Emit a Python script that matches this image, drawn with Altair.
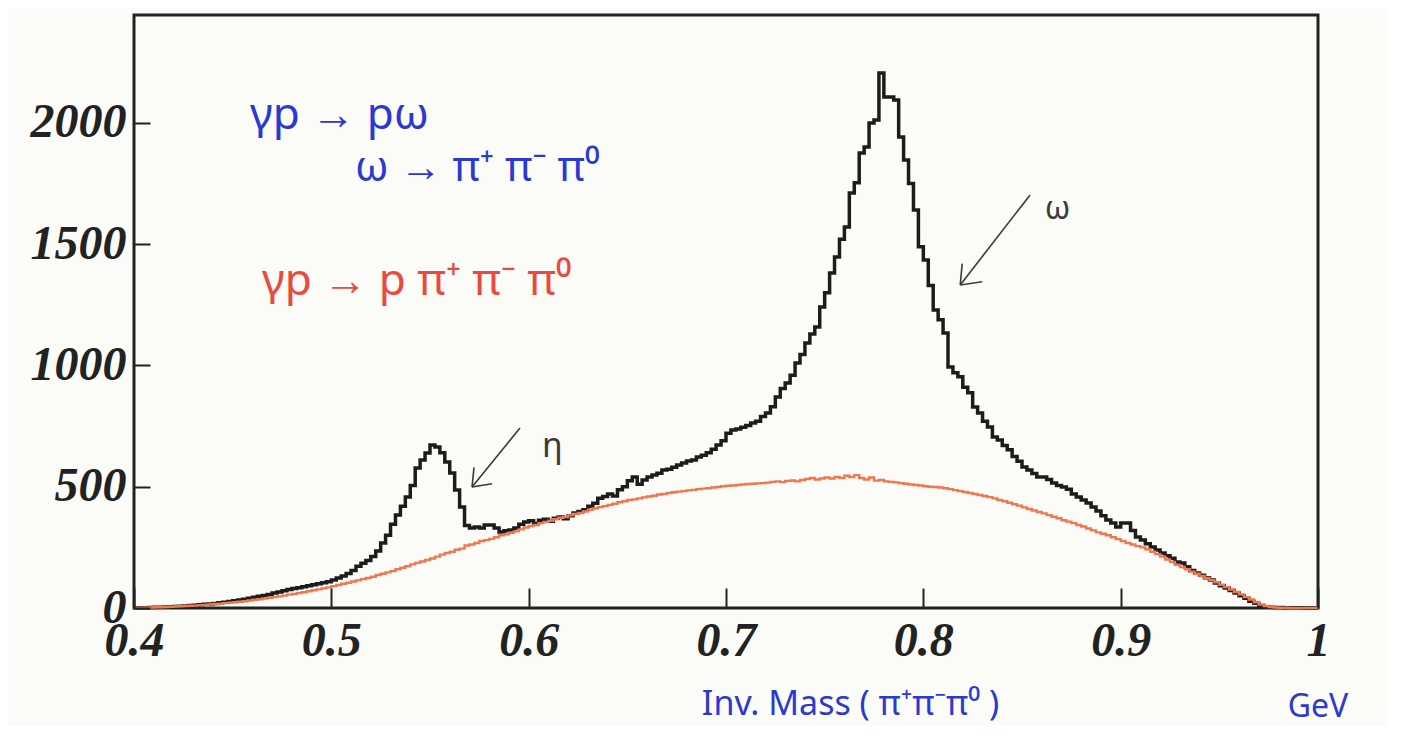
import altair as alt
import pandas as pd

# ---- data (bin width 0.0025 GeV, 240 bins from 0.4 to 1.0) ----
BIN_START = 0.4
BIN_WIDTH = 0.0025

# gamma p -> p omega, omega -> pi+ pi- pi0 (black histogram)
omega_counts = [
    0, 1, 1, 2, 3, 3, 4, 5, 6, 7, 8, 10, 11, 13, 15, 17, 19, 22, 24, 27,
    30, 33, 36, 40, 44, 48, 52, 56, 62, 66, 71, 76, 80, 84, 88, 92, 96, 100, 104, 108,
    115, 124, 132, 142, 155, 172, 185, 196, 212, 235, 268, 300, 345, 383, 420, 458,
    505, 577, 610, 639, 672, 664, 640, 602, 557, 487, 416, 340, 330, 334, 330, 342,
    342, 330, 313, 318, 322, 330, 345, 355, 360, 348, 362, 366, 358, 370, 375, 368,
    380, 392, 398, 405, 420, 432, 453, 460, 470, 462, 488, 500, 525, 540, 510, 528,
    540, 548, 556, 569, 572, 580, 590, 598, 606, 610, 623, 630, 640, 655, 672, 690,
    721, 734, 738, 745, 752, 763, 770, 790, 804, 830, 870, 905, 928, 960, 1010, 1045,
    1093, 1130, 1159, 1241, 1300, 1381, 1447, 1520, 1571, 1711, 1753, 1876,
    1901, 2000, 2012, 2206, 2107, 2107, 2095, 1942, 1847, 1750, 1641, 1489,
    1435, 1330, 1229, 1188, 1134, 994, 970, 953, 910, 887, 829, 804, 770, 746, 705, 693,
    670, 652, 625, 605, 581, 569, 555, 540, 540, 530, 515, 505, 499, 490, 470, 458,
    445, 433, 416, 400, 380, 363, 350, 334, 350, 350, 320, 293, 280, 265, 252, 239,
    227, 215, 205, 190, 186, 170, 155, 144, 135, 125, 115, 103, 92, 82, 72, 62,
    50, 40, 28, 20, 10, 5, 3, 2, 2, 1, 1, 1, 1, 0, 0, 0,
]

# gamma p -> p pi+ pi- pi0 phase space (red histogram)
phase_counts = [
    0, 1, 1, 2, 3, 3, 4, 5, 6, 7, 8, 9, 10, 12, 13, 15, 17, 18, 20, 22,
    24, 26, 28, 31, 34, 36, 39, 42, 45, 48, 51, 55, 58, 62, 65, 69, 73, 77, 81, 85,
    90, 95, 100, 104, 109, 114, 119, 124, 129, 136, 141, 147, 152, 160, 166, 172,
    180, 186, 192, 198, 204, 212, 220, 227, 232, 240, 245, 258, 262, 268, 276, 280,
    285, 292, 300, 304, 310, 316, 324, 332, 338, 342, 350, 355, 360, 366, 372, 375,
    382, 388, 392, 398, 405, 410, 416, 420, 425, 430, 436, 440, 445, 448, 452, 456,
    460, 463, 468, 470, 474, 477, 480, 482, 485, 487, 490, 492, 494, 497, 499, 502,
    504, 505, 507, 509, 511, 512, 514, 515, 517, 520, 522, 519, 524, 526, 522, 528,
    532, 536, 530, 534, 538, 534, 540, 536, 545, 540, 548, 536, 530, 538, 525, 528,
    522, 520, 518, 515, 512, 509, 507, 505, 502, 500, 499, 497, 494, 490, 486, 482,
    478, 474, 470, 466, 462, 457, 452, 445, 440, 434, 428, 422, 415, 408, 402, 396,
    390, 383, 376, 370, 362, 356, 350, 342, 336, 328, 320, 312, 306, 300, 292, 284,
    276, 268, 262, 255, 250, 242, 232, 222, 212, 200, 190, 178, 169, 160, 150, 141,
    132, 124, 115, 106, 96, 86, 76, 66, 56, 45, 35, 24, 14, 8, 4, 2, 1, 1, 0, 0,
    0, 0, 0, 0,
]

x_ticks = [0.4, 0.5, 0.6, 0.7, 0.8, 0.9, 1.0]
y_ticks = [0, 500, 1000, 1500, 2000]

X_DOMAIN = [0.4, 1.0]
Y_DOMAIN = [0, 2445]


def hist_frame(counts):
    n = len(counts)
    edges = [round(BIN_START + BIN_WIDTH * i, 6) for i in range(n + 1)]
    vals = list(counts) + [counts[-1]]
    return pd.DataFrame({"mass": edges, "count": vals})


df_omega = hist_frame(omega_counts)
df_phase = hist_frame(phase_counts)

xs = alt.Scale(domain=X_DOMAIN, nice=False, zero=False)
ys = alt.Scale(domain=Y_DOMAIN, nice=False, zero=True)

LABEL_FONT = "Liberation Serif"
BLUE = "#2a3ad0"
RED = "#ea4a3c"
INK = "#3a3a3a"

# axes are shifted inside the frame (negative offset) so that their ticks point inward
X_TICK = 20
Y_TICK = 16
x_axis = alt.Axis(
    values=x_ticks, format="~g", ticks=True, tickSize=X_TICK, tickWidth=2,
    tickColor="#222222", offset=-X_TICK, domain=False, grid=False, zindex=1,
    labelFont=LABEL_FONT, labelFontSize=48, labelFontStyle="italic", labelFontWeight="bold",
    labelColor="#222222", labelPadding=9, labelFlush=False,
    title="Inv. Mass ( π⁺π⁻π⁰ )", titleFont="Noto Sans", titleFontSize=34,
    titleFontWeight="normal", titleColor=BLUE, titleX=716, titleY=96 + X_TICK,
    titleAlign="center", titleBaseline="middle", titleAnchor="start",
)
y_axis = alt.Axis(
    values=y_ticks, format="d", ticks=True, tickSize=Y_TICK, tickWidth=2,
    tickColor="#222222", offset=-Y_TICK, domain=False, grid=False, zindex=1,
    labelFont=LABEL_FONT, labelFontSize=48, labelFontStyle="italic", labelFontWeight="bold",
    labelColor="#222222", labelPadding=8, labelFlush=False, title=None,
)

black = alt.Chart(df_omega).mark_line(
    interpolate="step-after", color="#1c1c1c", strokeWidth=3.5
).encode(
    x=alt.X("mass:Q", scale=xs, axis=x_axis),
    y=alt.Y("count:Q", scale=ys, axis=y_axis),
)

red = alt.Chart(df_phase).mark_line(
    interpolate="step-after", color="#f07850", strokeWidth=2.4
).encode(
    x=alt.X("mass:Q", scale=xs),
    y=alt.Y("count:Q", scale=ys),
)


def note(text, x, y, size, color, font="Noto Sans", align="left"):
    d = pd.DataFrame({"t": [text], "x": [x], "y": [y]})
    return alt.Chart(d).mark_text(
        font=font, fontSize=size, color=color, align=align, baseline="middle",
    ).encode(x=alt.X("x:Q", scale=xs), y=alt.Y("y:Q", scale=ys), text="t:N")


# hand-drawn arrows (shaft + two head strokes), in data coordinates
arrow_x = [0.8541, 0.8187, 0.8187, 0.8197, 0.8187, 0.8298,
           0.5956, 0.5713, 0.5713, 0.5723, 0.5713, 0.5815]
arrow_y = [1703, 1332, 1332, 1420, 1332, 1345,
           742, 499, 499, 580, 499, 512]
arrow_seg = ["w0", "w0", "w1", "w1", "w2", "w2",
             "e0", "e0", "e1", "e1", "e2", "e2"]
arrows = alt.Chart(pd.DataFrame({"x": arrow_x, "y": arrow_y, "seg": arrow_seg})).mark_line(
    color=INK, strokeWidth=1.6
).encode(
    x=alt.X("x:Q", scale=xs), y=alt.Y("y:Q", scale=ys), detail="seg:N"
)

notes = [
    note("γp → pω", 0.4588, 2030, 44, BLUE),
    note("ω → π⁺ π⁻ π⁰", 0.512, 1814, 42, BLUE),
    note("γp → p π⁺ π⁻ π⁰", 0.4649, 1345, 44, RED),
    note("ω", 0.868, 1645, 32, INK, align="center"),
    note("η", 0.612, 664, 34, INK, align="center"),
    note("GeV", 1.0, -410, 32, BLUE, align="center"),
]

chart = alt.layer(black, red, arrows, *notes).properties(
    width=1184, height=593,
    autosize=alt.AutoSizeParams(type="none"),
    padding={"left": 126, "top": 7, "right": 70, "bottom": 118},
    background="#fbfbf8",
).configure_view(
    stroke="#222222", strokeWidth=3, fill="#fbfbf8"
)

chart.save("out.html", embed_options={"renderer": "svg", "actions": False})
